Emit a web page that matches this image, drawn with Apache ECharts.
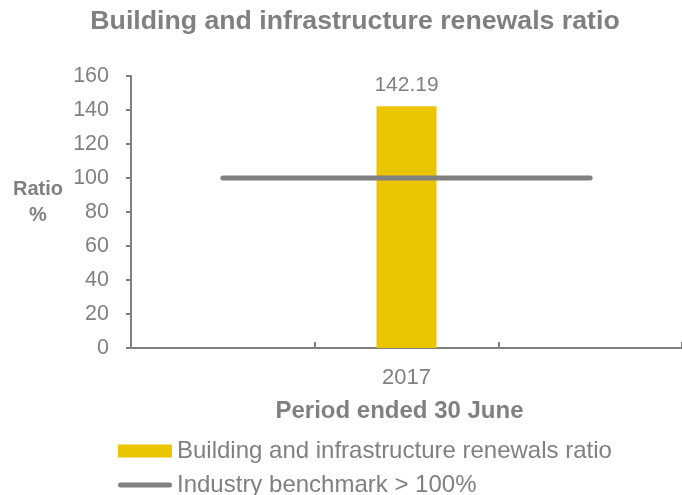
<!DOCTYPE html>
<html>
<head>
<meta charset="utf-8">
<script src="https://cdn.jsdelivr.net/npm/echarts@6/dist/echarts.min.js"></script>
<style>
  html, body { margin: 0; padding: 0; background: #fff; }
  #chart { width: 682px; height: 495px; }
</style>
</head>
<body>
<div id="chart"></div>
<script>
// Category slots: the ratio sits in the middle slot, the benchmark spans all three.
const categories = ['', '2017', ''];
const renewalsRatio = [null, 142.19, null];
const benchmark = [100, 100, 100];
const yTicks = { min: 0, max: 160, interval: 20 };

const GREY = '#808080';
const GOLD = '#EAC500';
const FONT = 'Liberation Sans, Arial, sans-serif';

const BAR_NAME = 'Building and infrastructure renewals ratio';
const LINE_NAME = 'Industry benchmark > 100%';

const chart = echarts.init(document.getElementById('chart'), null, { renderer: 'canvas' });

chart.setOption({
  animation: false,
  textStyle: { fontFamily: FONT },
  grid: { left: 131, right: 0, top: 76, bottom: 147, containLabel: false },
  xAxis: {
    type: 'category',
    data: categories,
    name: 'Period ended 30 June',
    nameLocation: 'middle',
    nameGap: 51,
    nameTextStyle: { color: GREY, fontSize: 24, fontWeight: 'bold', fontFamily: FONT, padding: [0, 14, 0, 0] },
    axisLine: { lineStyle: { color: GREY, width: 2 } },
    axisTick: { show: true, inside: true, length: 6, lineStyle: { color: GREY, width: 2 } },
    axisLabel: { color: GREY, fontSize: 22, margin: 19, fontFamily: FONT },
    splitLine: { show: false }
  },
  yAxis: {
    type: 'value',
    min: yTicks.min,
    max: yTicks.max,
    interval: yTicks.interval,
    axisLine: { show: true, lineStyle: { color: GREY, width: 2 } },
    axisTick: { show: true, length: 5, lineStyle: { color: GREY, width: 2 } },
    axisLabel: { color: GREY, fontSize: 21.5, margin: 22, fontFamily: FONT },
    splitLine: { show: false }
  },
  legend: [
    {
      left: 118,
      top: 439,
      padding: 0,
      itemWidth: 54,
      itemHeight: 13,
      textStyle: { color: GREY, fontSize: 24, fontFamily: FONT },
      data: [{ name: BAR_NAME, icon: 'rect' }]
    },
    {
      left: 118,
      top: 473,
      padding: 0,
      itemWidth: 54,
      itemHeight: 5,
      textStyle: { color: GREY, fontSize: 24, fontFamily: FONT },
      data: [{
        name: LINE_NAME,
        icon: 'path://M2.5,0H51.5A2.5,2.5,0,0,1,51.5,5H2.5A2.5,2.5,0,0,1,2.5,0Z',
        itemStyle: { color: GREY }
      }]
    }
  ],
  graphic: [
    {
      type: 'text',
      x: 355,
      y: 22,
      style: {
        text: 'Building and infrastructure renewals ratio',
        fill: GREY,
        font: 'bold 26.7px ' + FONT,
        align: 'center',
        verticalAlign: 'middle'
      }
    },
    {
      type: 'text',
      x: 38,
      y: 202,
      style: {
        text: 'Ratio\n%',
        fill: GREY,
        font: 'bold 20px ' + FONT,
        align: 'center',
        verticalAlign: 'middle',
        lineHeight: 26
      }
    }
  ],
  series: [
    {
      name: BAR_NAME,
      type: 'bar',
      data: renewalsRatio,
      barWidth: 60,
      itemStyle: { color: GOLD },
      label: {
        show: true,
        position: 'top',
        distance: 11,
        color: GREY,
        fontSize: 21,
        fontFamily: FONT,
        formatter: p => p.value.toFixed(2)
      },
      z: 2
    },
    {
      name: LINE_NAME,
      type: 'line',
      data: benchmark,
      symbol: 'none',
      lineStyle: { color: GREY, width: 5, cap: 'round' },
      itemStyle: { color: GREY },
      z: 3
    }
  ]
});
</script>
</body>
</html>
